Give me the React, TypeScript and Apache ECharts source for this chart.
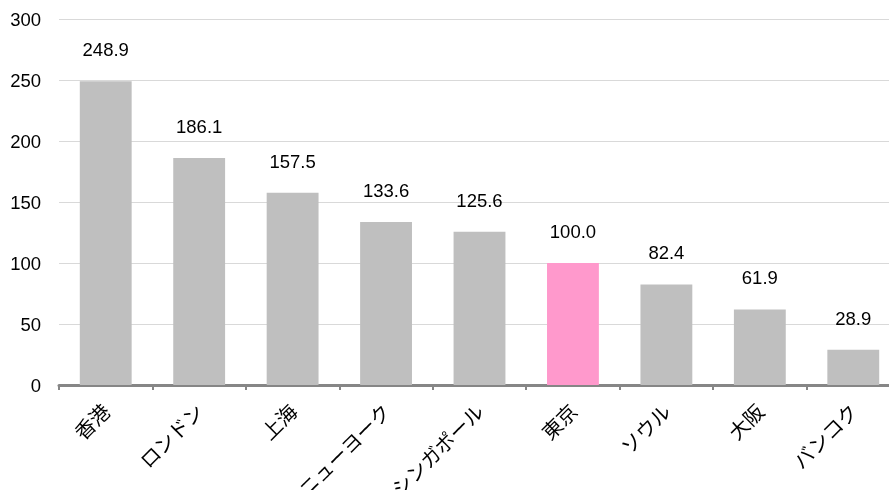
import React, { useEffect, useRef } from "react";
import * as echarts from "echarts";

const categories = ["香港", "ロンドン", "上海", "ニューヨーク", "シンガポール", "東京", "ソウル", "大阪", "バンコク"];
const values = [248.9, 186.1, 157.5, 133.6, 125.6, 100.0, 82.4, 61.9, 28.9];
const highlight = "東京";
const yTicks = { min: 0, max: 300, interval: 50 };

export default function App() {
  const ref = useRef<HTMLDivElement>(null);
  useEffect(() => {
    const chart = echarts.init(ref.current!, null, { renderer: "svg" });
    chart.setOption({
      animation: false,
      grid: { left: 59, top: 19, right: 0, bottom: 105, containLabel: false, outerBoundsMode: "none" },
      xAxis: {
        type: "category",
        data: categories,
        axisLine: { lineStyle: { color: "#868686", width: 3 } },
        axisTick: { show: true, length: 5, lineStyle: { color: "#868686", width: 2 } },
        axisLabel: {
          rotate: 45,
          interval: 0,
          color: "#000",
          fontSize: 20,
          fontFamily: "Noto Sans CJK JP",
          margin: 22,
        },
      },
      yAxis: {
        type: "value",
        min: yTicks.min,
        max: yTicks.max,
        interval: yTicks.interval,
        axisLine: { show: false },
        axisTick: { show: false },
        splitLine: { lineStyle: { color: "#d9d9d9", width: 1 } },
        axisLabel: { color: "#000", fontSize: 18.5, fontFamily: "Liberation Sans", margin: 18 },
      },
      series: [
        {
          type: "bar",
          barWidth: "55.5%",
          data: values.map((v, i) => ({
            value: v,
            itemStyle: { color: categories[i] === highlight ? "#ff99cc" : "#bfbfbf" },
          })),
          label: {
            show: true,
            position: "top",
            distance: 22,
            color: "#000",
            fontSize: 18.5,
            fontFamily: "Liberation Sans",
            formatter: (p: any) => Number(p.value).toFixed(1),
          },
        },
      ],
    });
    return () => chart.dispose();
  }, []);
  return (
    <div style={{ width: 889, height: 490, position: "fixed", left: 0, top: 0, overflow: "hidden" }}>
      <div ref={ref} style={{ width: 900, height: 490 }} />
    </div>
  );
}
